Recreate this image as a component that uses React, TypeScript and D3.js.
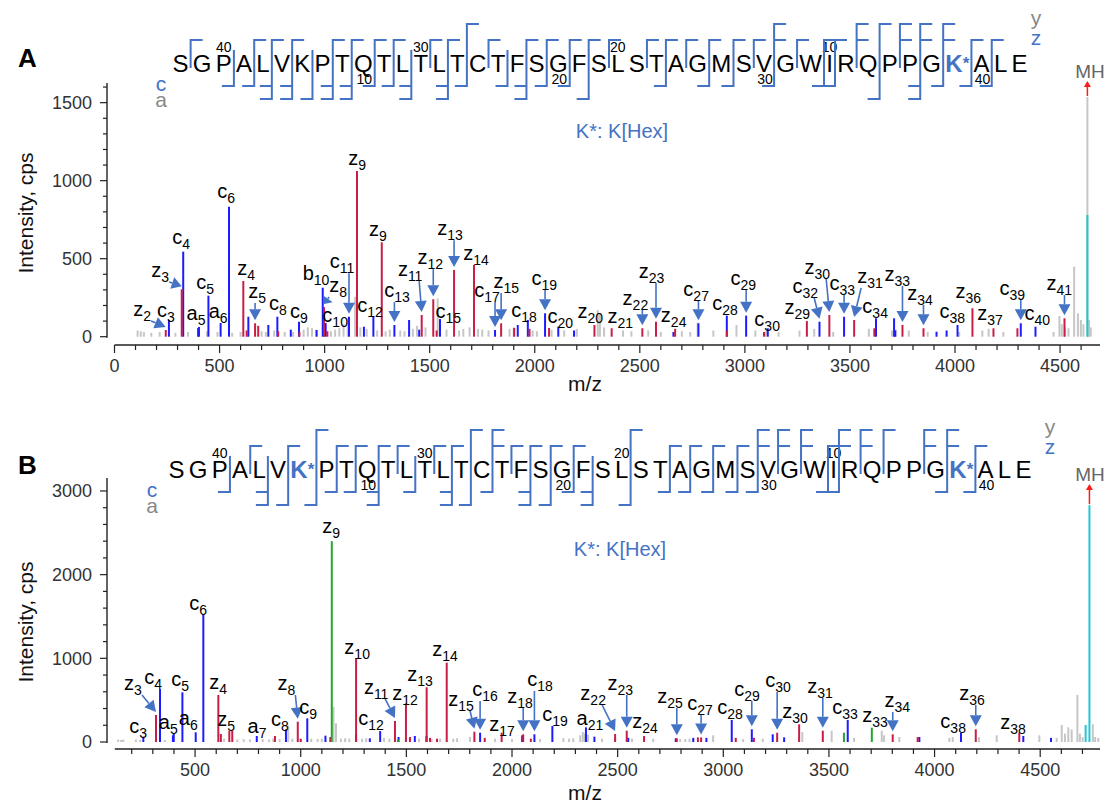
import React from "react";
import * as d3 from "d3";

// peptide and fragment coverage (cleavage after residue 1..41)
const residues = "SGPALVKPTQTLTLTCTFSGFSLSTAGMSVGWIRQPPGKALE".split("");
const hexSitesA = [39];
const hexSitesB = [7, 39];
// 0 none, 1 inner, 2 outer, 3 both
const zLevelsA = [1,0,0,1,1,1,0,1,1,1, 1,0,1,1,2,1,0,1,1,1, 1,1,0,1,1,1,1,1,1,3, 1,1,1,3,2,3,3,3,1,1, 0];
const cLevelsA = [0,0,1,1,3,3,2,3,3,1, 1,3,0,3,1,0,1,3,1,1, 2,0,0,0,1,0,1,1,0,1, 0,1,1,0,2,0,3,1,1,1, 0];
const zLevelsB = [0,0,0,1,0,1,2,1,1,1, 1,0,1,1,2,3,1,1,1,1, 0,0,2,0,1,1,1,1,3,3, 3,1,3,3,2,0,3,3,1,0, 0];
const cLevelsB = [0,0,1,0,3,2,2,1,1,3, 0,1,0,3,2,1,0,3,2,1, 3,0,2,0,1,1,1,1,1,0, 0,1,1,0,0,0,0,1,1,0, 0];

const xTickLabels = [0, 500, 1000, 1500, 2000, 2500, 3000, 3500, 4000, 4500];
const yTicksA = [0, 500, 1000, 1500];
const yTicksB = [0, 1000, 2000, 3000];

type Peak = [number, number];
// [ion, number, label m/z, label intensity, arrow target m/z, arrow target intensity]
type Lab = [string, number, number, number, number?, number?];

// ---- panel A ----
const blueA: Peak[] = [
  [259,107],[327,545],[398,55],[402,62],[447,263],[505,88],[545,833],[637,128],[732,75],[775,128],
  [839,45],[878,96],[962,43],[991,314],[1005,88],[1116,128],[1187,64],[1232,128],[1332,75],[1402,107],
  [1450,45],[1549,113],[1811,43],[1919,75],[1967,107],[2049,150],[2112,64],[2187,40],[2660,30],[2779,86],
  [2914,135],[3006,135],[3109,54],[3355,96],[3472,128],[3624,118],[3710,118],[3715,40],[3912,32],[3960,40],
  [4012,75],[4313,86],[4383,64],
];
const redA: Peak[] = [
  [244,43],[320,304],[613,357],[629,40],[669,86],[684,70],[779,35],[880,30],[997,190],[1013,35],
  [1154,1062],[1272,605],[1462,139],[1517,240],[1533,40],[1616,428],[1711,460],[1840,86],[1902,56],[1975,50],
  [2068,56],[2284,75],[2366,54],[2512,54],[2577,96],[2668,50],[2914,40],[3091,30],[3295,100],[3402,139],
  [3520,107],[3616,54],[3750,75],[3850,54],[4083,182],[4183,54],[4297,54],[4521,118],
];
const greyA: Peak[] = [
  [110,40],[125,35],[140,30],[175,25],[215,30],[290,25],[350,30],[440,35],[490,30],[560,25],
  [600,30],[700,35],[720,30],[760,40],[810,30],[850,30],[900,45],[920,60],[940,55],[960,45],
  [1030,35],[1050,45],[1070,55],[1090,80],[1110,120],[1145,256],[1170,60],[1200,50],[1250,40],[1290,35],
  [1310,45],[1360,40],[1380,35],[1420,50],[1440,70],[1480,60],[1538,245],[1580,45],[1640,40],[1660,50],
  [1690,60],[1730,50],[1750,45],[1780,40],[1880,50],[1900,60],[1990,40],[2010,35],[2080,45],[2140,40],
  [2200,50],[2300,170],[2310,150],[2330,60],[2420,40],[2460,35],[2540,40],[2600,30],[2700,35],[2740,30],
  [2775,90],[2850,40],[2960,75],[3050,40],[3100,35],[3160,30],[3260,40],[3330,50],[3420,30],[3590,50],
  [3700,40],[3720,45],[3780,40],[3870,30],[4020,30],[4130,40],[4160,50],[4230,30],[4469,30],[4497,133],
  [4508,80],[4524,60],[4540,54],[4567,449],[4585,150],[4599,107],[4611,80],[4630,1536],[4638,107],[4646,60],
];
const cyanA: Peak[] = [[4630, 780]];
const labelsA: Lab[] = [
  ["z",2,131,133,244,43],["c",3,245,126],["z",3,217,383,320,304],["c",4,317,594],["a",5,388,107],
  ["c",5,431,306],["a",6,493,120],["c",6,531,889],["z",4,626,396],["z",5,679,248,669,86],
  ["c",8,778,171],["c",9,878,120],["b",10,959,363],["z",8,1064,287,997,190],["c",10,1050,94],
  ["c",11,1083,439,1116,128],["z",9,1155,1101],["c",12,1216,158],["z",9,1254,644],["c",13,1345,254,1332,75],
  ["z",11,1407,388,1462,139],["z",12,1503,465,1517,240],["c",15,1588,120],["z",13,1597,651,1616,428],["z",14,1721,492],
  ["c",17,1773,254,1811,43],["z",15,1864,312,1840,86],["c",18,1949,126],["c",19,2045,331,2049,150],["c",20,2121,88],
  ["z",20,2264,120],["z",21,2407,88],["z",22,2479,203,2512,54],["z",23,2556,376,2577,96],["z",24,2661,94],
  ["c",27,2768,261,2779,86],["c",28,2906,171],["c",29,2992,331,3006,135],["c",30,3106,66],["z",29,3249,145],
  ["c",32,3287,280,3355,96],["z",30,3344,402,3402,139],["c",33,3463,299,3472,128],["z",31,3596,344,3520,107],["c",34,3620,152],
  ["z",33,3725,357,3750,75],["z",34,3834,235,3850,54],["c",38,3987,120],["z",36,4063,248],["z",37,4167,107],
  ["c",39,4272,267,4313,86],["c",40,4391,107],["z",41,4496,299,4521,118],
];

// ---- panel B ----
const blueB: Peak[] = [
  [255,63],[334,633],[395,80],[399,104],[440,594],[503,116],[539,1526],[792,72],[930,152],[1031,283],
  [1117,76],[1262,96],[1327,44],[1376,131],[1463,60],[1540,72],[1595,72],[1849,111],[2048,80],[2106,92],
  [2191,191],[2350,175],[2390,64],[2550,50],[2775,44],[2858,50],[2920,50],[3040,263],[3135,152],[3234,92],
  [3288,56],[3589,263],[3928,60],[4125,111],[4420,72],[4551,50],
];
const redB: Peak[] = [
  [315,323],[610,562],[622,96],[662,135],[676,135],[878,72],[986,243],[1000,40],[1140,60],[1262,1000],
  [1446,251],[1498,462],[1517,60],[1596,654],[1612,50],[1645,40],[1691,948],[1822,123],[1871,50],[1951,111],
  [2053,92],[2089,40],[2488,96],[2543,135],[2625,72],[2780,44],[2880,55],[2895,55],[3059,50],[3145,50],
  [3255,111],[3359,211],[3471,135],[3802,92],[3920,60],[4195,152],[4401,111],
];
const greenB: Peak[] = [[1147,2400],[1460,30],[3571,111],[3703,171]];
const greyB: Peak[] = [
  [136,30],[150,25],[160,30],[220,30],[240,25],[357,25],[637,40],[700,30],[730,35],[760,30],
  [820,35],[850,30],[870,40],[900,35],[941,195],[960,40],[1000,35],[1050,40],[1080,35],[1100,40],
  [1155,422],[1167,223],[1190,40],[1210,45],[1230,40],[1290,40],[1310,45],[1394,50],[1420,40],[1560,40],
  [1620,35],[1660,40],[1722,40],[1740,45],[1801,60],[1920,40],[2000,35],[2133,35],[2243,45],[2270,40],
  [2290,45],[2323,80],[2335,120],[2345,100],[2360,90],[2426,40],[2568,40],[2668,40],[2796,35],[2820,35],
  [2840,40],[2857,35],[2952,80],[3094,35],[3187,40],[3374,120],[3513,135],[3619,50],[3750,135],[3761,80],
  [3833,60],[4070,50],[4086,60],[4210,60],[4294,80],[4496,80],[4578,50],[4602,203],[4617,100],[4633,175],
  [4649,150],[4676,562],[4688,100],[4701,60],[4749,211],[4760,60],[4775,50],
];
const cyanB: Peak[] = [[4715,203],[4733,2830]];
const labelsB: Lab[] = [
  ["c",3,230,108],["z",3,206,621,315,323],["c",4,301,693],["a",5,373,155],["c",5,429,669],
  ["a",6,468,203],["c",6,514,1577],["z",4,609,633],["z",5,647,191],["a",7,793,108],
  ["c",8,902,191],["z",8,932,621,986,243],["c",9,1035,335],["z",9,1144,2497],["z",10,1267,1052],
  ["c",12,1333,203],["z",11,1357,574,1446,251],["z",12,1494,502],["z",13,1565,729],["z",14,1683,1028],
  ["z",15,1759,430,1822,123],["c",16,1872,550,1849,111],["z",17,1953,131],["z",18,2038,466,2053,92],["c",18,2133,669,2106,92],
  ["c",19,2204,251],["a",21,2369,203],["z",22,2384,502,2488,96],["z",23,2512,621,2543,135],["z",24,2630,167],
  ["z",25,2748,466,2780,44],["c",27,2890,382,2895,55],["c",28,3032,335],["c",29,3112,550,3135,152],["c",30,3259,657,3255,111],
  ["z",30,3340,287],["z",31,3458,586,3471,135],["c",33,3576,335],["z",33,3718,239],["z",34,3823,418,3802,92],
  ["c",38,4088,167],["z",36,4177,502,4195,152],["z",38,4371,155],
];

const FONT = "'Liberation Sans', Arial, Helvetica, sans-serif";
const COL = {
  blue: "#1c1cff",
  red: "#c81e46",
  grey: "#c6c6c6",
  cyan: "#22c6d2",
  green: "#22a830",
  frag: "#4472c4",
  axis: "#222",
  tick: "#333",
};

// Arial advance widths (1/1000 em)
const charW: Record<string, number> = {
  S: 667, G: 778, P: 667, A: 667, L: 556, V: 667, K: 667, T: 611, Q: 778,
  C: 722, F: 611, M: 833, W: 944, I: 278, R: 722, E: 667,
};
const SEQ_FS = 24;
const SEQ_GAP = 4.3;

function seqLayout(mods: number[]) {
  const w = residues.map((r, i) =>
    mods.includes(i + 1) ? (722 * SEQ_FS + 389 * 17) / 1000 : (charW[r] * SEQ_FS) / 1000
  );
  const total = d3.sum(w) + SEQ_GAP * (w.length - 1);
  let x = 600 - total / 2;
  const centers: number[] = [];
  const bounds: number[] = [];
  w.forEach((wi, i) => {
    centers.push(x + wi / 2);
    x += wi;
    if (i < w.length - 1) bounds.push(x + SEQ_GAP / 2);
    x += SEQ_GAP;
  });
  return { centers, bounds };
}

const Arrow = ({ sx, sy, tx, ty, color, head = 11, hw = 6, sw = 1.6 }: any) => {
  const dx = tx - sx, dy = ty - sy;
  const len = Math.hypot(dx, dy) || 1;
  const ux = dx / len, uy = dy / len;
  const h = Math.min(head, len * 0.75);
  const bx = tx - ux * h, by = ty - uy * h;
  return (
    <g>
      <line x1={sx} y1={sy} x2={bx} y2={by} stroke={color} strokeWidth={sw} />
      <polygon
        points={`${tx},${ty} ${bx - uy * hw},${by + ux * hw} ${bx + uy * hw},${by - ux * hw}`}
        fill={color}
      />
    </g>
  );
};

function Panel({ p, grey, blue, red, green, cyan, labels, zLv, cLv, mods, yTicks, mh }: any) {
  const x = d3.scaleLinear().domain([p.mzMin, p.mzMax]).range([p.x0, p.x1]);
  const y = d3.scaleLinear().domain([0, p.intMax]).range([p.yBase, p.yTop]);
  const yMinor = d3.range(0, p.intMax, yTicks[1] / 5);
  const xMinor = d3.range(Math.ceil(p.mzMin / 100) * 100, p.mzMax, 100);
  const { centers, bounds } = seqLayout(mods);
  const base = p.seqBase;

  const peaks = (arr: Peak[], color: string) =>
    arr.map(([mz, v], i) => (
      <line key={i} x1={x(mz)} x2={x(mz)} y1={y(0)} y2={y(v)} stroke={color} strokeWidth={2} />
    ));

  return (
    <g>
      {/* panel letter */}
      <text x={18} y={p.titleY} fontSize={26} fontWeight="bold" fill="#000">{p.title}</text>

      {/* y axis */}
      <line x1={p.yAxisX} x2={p.yAxisX} y1={p.yBase + 1} y2={p.yTop} stroke={COL.axis} strokeWidth={1.4} />
      {yMinor.map((t: number) => {
        const major = yTicks.includes(t);
        return (
          <line key={t} x1={p.yAxisX - (major ? 7 : 4)} x2={p.yAxisX} y1={y(t)} y2={y(t)}
            stroke={COL.axis} strokeWidth={1.2} />
        );
      })}
      {yTicks.map((t: number) => (
        <text key={t} x={p.yAxisX - 15} y={y(t)} dy="0.35em" textAnchor="end" fontSize={18} fill={COL.tick}>
          {t}
        </text>
      ))}
      <text transform={`translate(33,${p.yTitleY}) rotate(-90)`} textAnchor="middle" fontSize={21} fill="#111">
        Intensity, cps
      </text>

      {/* x axis */}
      <line x1={p.x0} x2={p.x1} y1={p.xAxisY} y2={p.xAxisY} stroke={COL.axis} strokeWidth={1.4} />
      {xMinor.map((t: number) => {
        const major = t % 500 === 0;
        return (
          <line key={t} x1={x(t)} x2={x(t)} y1={p.xAxisY} y2={p.xAxisY + (major ? 8 : 5)}
            stroke={COL.axis} strokeWidth={1.2} />
        );
      })}
      {xTickLabels.filter((t) => t >= p.mzMin && t <= p.mzMax).map((t) => (
        <text key={t} x={x(t)} y={p.xAxisY + 27} textAnchor="middle" fontSize={18} fill={COL.tick}>
          {t}
        </text>
      ))}
      <text x={585} y={p.xTitleY} textAnchor="middle" fontSize={21} fill="#111">m/z</text>

      {/* spectrum */}
      {peaks(grey, COL.grey)}
      {peaks(blue, COL.blue)}
      {peaks(red, COL.red)}
      {peaks(green, COL.green)}
      {peaks(cyan, COL.cyan)}

      {/* precursor */}
      <Arrow sx={x(mh[0])} sy={y(mh[1]) - 1} tx={x(mh[0])} ty={p.mhY + 3} color="#ff1a1a" head={6} hw={3.5} sw={1.5} />
      <text x={1090} y={p.mhY} textAnchor="middle" fontSize={19} fill="#666">MH</text>

      {/* fragment labels */}
      {labels.map((l: Lab, i: number) => {
        const [ion, n, lmz, li, tmz, ti] = l;
        const lx = x(lmz), ly = y(li);
        let arrow = null;
        if (tmz != null && ti != null) {
          const tx = x(tmz), ty = y(ti) - 3;
          const sx = lx + Math.max(-9, Math.min(9, tx - lx));
          arrow = <Arrow sx={sx} sy={ly + 5} tx={tx} ty={ty} color={COL.frag} />;
        }
        return (
          <g key={i}>
            {arrow}
            <text x={lx} y={ly} textAnchor="middle" fontSize={20} fill="#000">
              <tspan>{ion}</tspan>
              <tspan fontSize={14} dy={5}>{n}</tspan>
            </text>
          </g>
        );
      })}

      {/* sequence */}
      {residues.map((r, i) =>
        mods.includes(i + 1) ? (
          <text key={i} x={centers[i]} y={base} textAnchor="middle" fontSize={SEQ_FS} fontWeight="bold" fill={COL.frag}>
            <tspan>K</tspan>
            <tspan fontSize={17} dy={-3}>*</tspan>
          </text>
        ) : (
          <text key={i} x={centers[i]} y={base} textAnchor="middle" fontSize={SEQ_FS} fill="#000">{r}</text>
        )
      )}
      {residues.map((r, i) => {
        const j = i + 1;
        const out = [];
        if (j % 10 === 0)
          out.push(<text key={"c" + j} x={centers[i] + 1} y={base + 12} textAnchor="middle" fontSize={14} fill="#000">{j}</text>);
        const zn = residues.length - j + 1;
        if (zn % 10 === 0)
          out.push(<text key={"z" + j} x={centers[i]} y={base - 20} textAnchor="middle" fontSize={14} fill="#000">{zn}</text>);
        return out;
      })}
      {bounds.map((bx, k) => {
        const zl = zLv[k], cl = cLv[k];
        let d = "";
        if (zl) {
          const top = zl & 2 ? base - 48 : base - 32;
          d += `M${bx},${base - 4}V${top}H${bx + 12}`;
          if (zl === 3) d += `M${bx},${base - 32}H${bx + 12}`;
        }
        if (cl) {
          const bot = cl & 2 ? base + 27 : base + 14;
          d += `M${bx},${base - 22}V${bot}H${bx - 12}`;
          if (cl === 3) d += `M${bx},${base + 14}H${bx - 12}`;
        }
        return d ? <path key={k} d={d} fill="none" stroke={COL.frag} strokeWidth={2} /> : null;
      })}

      {/* ion type legends */}
      <text x={p.legCx} y={base + 19} textAnchor="middle" fontSize={21} fill={COL.frag}>c</text>
      <text x={p.legCx} y={base + 35} textAnchor="middle" fontSize={21} fill="#888">a</text>
      <text x={p.legZx} y={base + p.legYy} textAnchor="middle" fontSize={21} fill="#888">y</text>
      <text x={p.legZx} y={base + p.legZy} textAnchor="middle" fontSize={21} fill={COL.frag}>z</text>

      <text x={p.hexX} y={p.hexY} textAnchor="middle" fontSize={20} fill={COL.frag}>K*: K[Hex]</text>
    </g>
  );
}

const layoutA = {
  title: "A", titleY: 67, mzMin: 0, mzMax: 4690, x0: 114.5, x1: 1100, yBase: 336.7, yTop: 83,
  intMax: 1626, xAxisY: 345, yAxisX: 107, seqBase: 72, hexX: 622, hexY: 138, mhY: 78,
  legCx: 161, legZx: 1036, legYy: -47, legZy: -27, xTitleY: 391, yTitleY: 213,
};
const layoutB = {
  title: "B", titleY: 474, mzMin: 120, mzMax: 4783, x0: 114.8, x1: 1100, yBase: 742, yTop: 478,
  intMax: 3155, xAxisY: 749, yAxisX: 107, seqBase: 478, hexX: 620, hexY: 556, mhY: 481,
  legCx: 152, legZx: 1050, legYy: -44, legZy: -24, xTitleY: 800, yTitleY: 622,
};

export default function App() {
  return (
    <svg
      width={1106}
      height={809}
      style={{ position: "absolute", left: 0, top: 0, background: "#fff" }}
      fontFamily={FONT}
    >
      <Panel p={layoutA} grey={greyA} blue={blueA} red={redA} green={[]} cyan={cyanA}
        labels={labelsA} zLv={zLevelsA} cLv={cLevelsA} mods={hexSitesA} yTicks={yTicksA} mh={[4630, 1536]} />
      <Panel p={layoutB} grey={greyB} blue={blueB} red={redB} green={greenB} cyan={cyanB}
        labels={labelsB} zLv={zLevelsB} cLv={cLevelsB} mods={hexSitesB} yTicks={yTicksB} mh={[4733, 2830]} />
    </svg>
  );
}
